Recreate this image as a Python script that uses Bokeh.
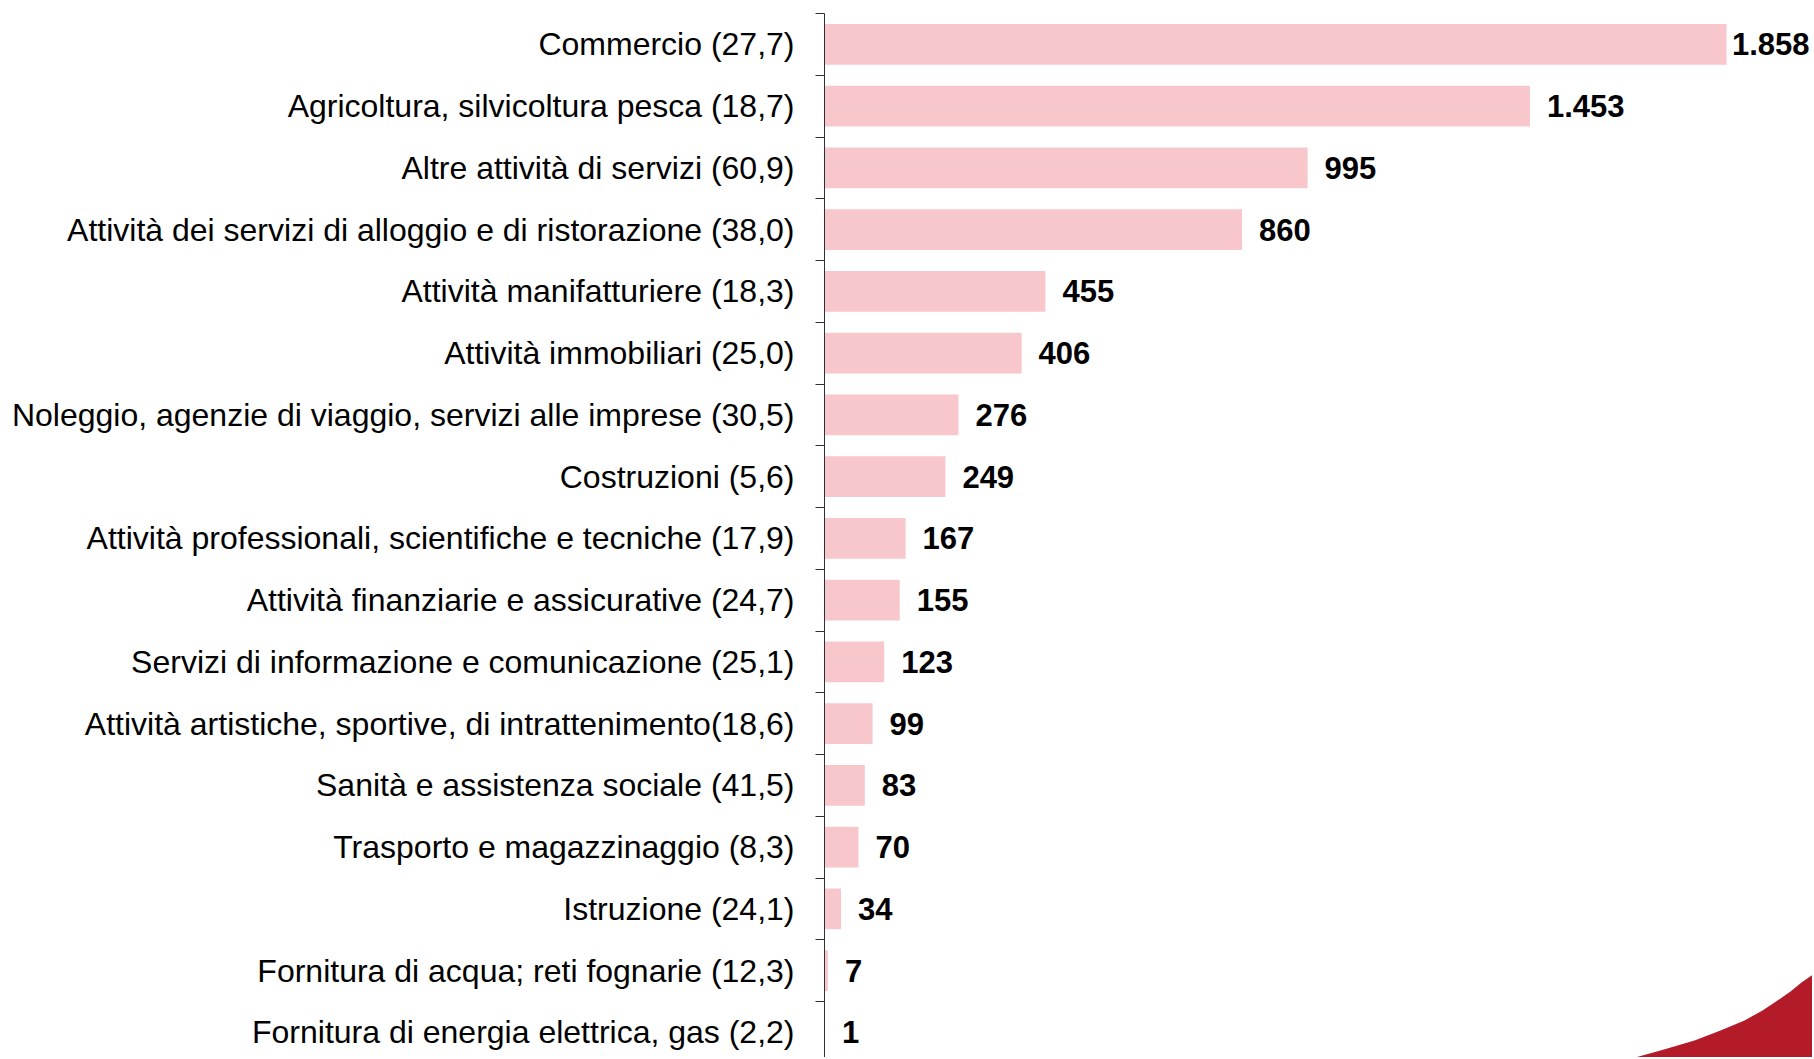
from bokeh.plotting import figure
from bokeh.models import Range1d, FixedTicker, ColumnDataSource
from bokeh.embed import file_html
from bokeh.resources import INLINE
from bokeh.core.properties import value

categories = [
    "Commercio (27,7)",
    "Agricoltura, silvicoltura pesca (18,7)",
    "Altre attività di servizi (60,9)",
    "Attività dei servizi di alloggio e di ristorazione (38,0)",
    "Attività manifatturiere (18,3)",
    "Attività immobiliari (25,0)",
    "Noleggio, agenzie di viaggio, servizi alle imprese (30,5)",
    "Costruzioni (5,6)",
    "Attività professionali, scientifiche e tecniche (17,9)",
    "Attività finanziarie e assicurative (24,7)",
    "Servizi di informazione e comunicazione (25,1)",
    "Attività artistiche, sportive, di intrattenimento(18,6)",
    "Sanità e assistenza sociale (41,5)",
    "Trasporto e magazzinaggio (8,3)",
    "Istruzione (24,1)",
    "Fornitura di acqua; reti fognarie (12,3)",
    "Fornitura di energia elettrica, gas (2,2)",
]
values = [1858, 1453, 995, 860, 455, 406, 276, 249, 167, 155, 123, 99, 83, 70, 34, 7, 1]

# layout (pixels)
W, H = 1812, 1057
LEFT = 824
TOP = 13
BAND = 61.75
PX_PER_UNIT = 0.4855
FONT = "Liberation Sans"
CAT_PX = 32
LABEL_PX = 31

n = len(categories)
x_end = (W - LEFT) / PX_PER_UNIT
y_bottom = -0.5 + (H - TOP) / BAND

p = figure(width=W, height=H, output_backend="svg", toolbar_location=None,
           x_range=Range1d(0, x_end), y_range=Range1d(y_bottom, -0.5),
           x_axis_location=None, min_border_left=LEFT, min_border_right=0,
           min_border_top=TOP, min_border_bottom=0)
p.outline_line_color = None
p.grid.visible = False
p.background_fill_color = "white"
p.border_fill_color = "white"

ys = list(range(n))
labels = [f"{v:,}".replace(",", ".") for v in values]


def text_w(s):
    return sum((0.278 if ch == "." else 0.556) for ch in s) * LABEL_PX


xoff = []
for v, s in zip(values, labels):
    room = (W - LEFT) - v * PX_PER_UNIT - text_w(s) - 3
    xoff.append(max(2, min(17, room)))

src = ColumnDataSource(dict(y=ys, v=values, lab=labels, xoff=xoff))

p.hbar(y="y", right="v", left=0, height=0.66, source=src,
       fill_color="#F7C7CB", line_color=None)

p.text(x="v", y="y", text="lab", x_offset="xoff", source=src,
       text_font=value(FONT), text_font_style="bold", text_font_size=f"{LABEL_PX}px",
       text_baseline="middle", text_align="left", text_color="black")


# decorative corner swoosh (page pixel outline converted to data units)
def to_data(px, py):
    return (px - LEFT) / PX_PER_UNIT, (py - TOP) / BAND - 0.5


sw = [(1560, 1076), (1600, 1066), (1631, 1058), (1660, 1050), (1694, 1040),
      (1720, 1030), (1744, 1020), (1762, 1010), (1777, 1000), (1790, 991),
      (1801, 982), (1814, 973), (1840, 954), (1840, 1090), (1560, 1090)]
sx, sy = zip(*[to_data(a, b) for a, b in sw])
p.patch(list(sx), list(sy), fill_color="#B31B28", line_color=None)

ax = p.yaxis[0]
ax.ticker = FixedTicker(ticks=ys, minor_ticks=[i - 0.5 for i in range(n + 1)])
ax.major_label_overrides = {i: c for i, c in enumerate(categories)}
ax.major_tick_line_color = None
ax.major_tick_in = 0
ax.major_tick_out = 0
ax.minor_tick_in = 0
ax.minor_tick_out = 9
ax.minor_tick_line_color = "#303030"
ax.axis_line_color = "#303030"
ax.axis_line_width = 1
ax.major_label_standoff = 21
ax.major_label_text_font = FONT
ax.major_label_text_font_size = f"{CAT_PX}px"
ax.major_label_text_color = "black"

open("out.html", "w").write(file_html(p, INLINE))
